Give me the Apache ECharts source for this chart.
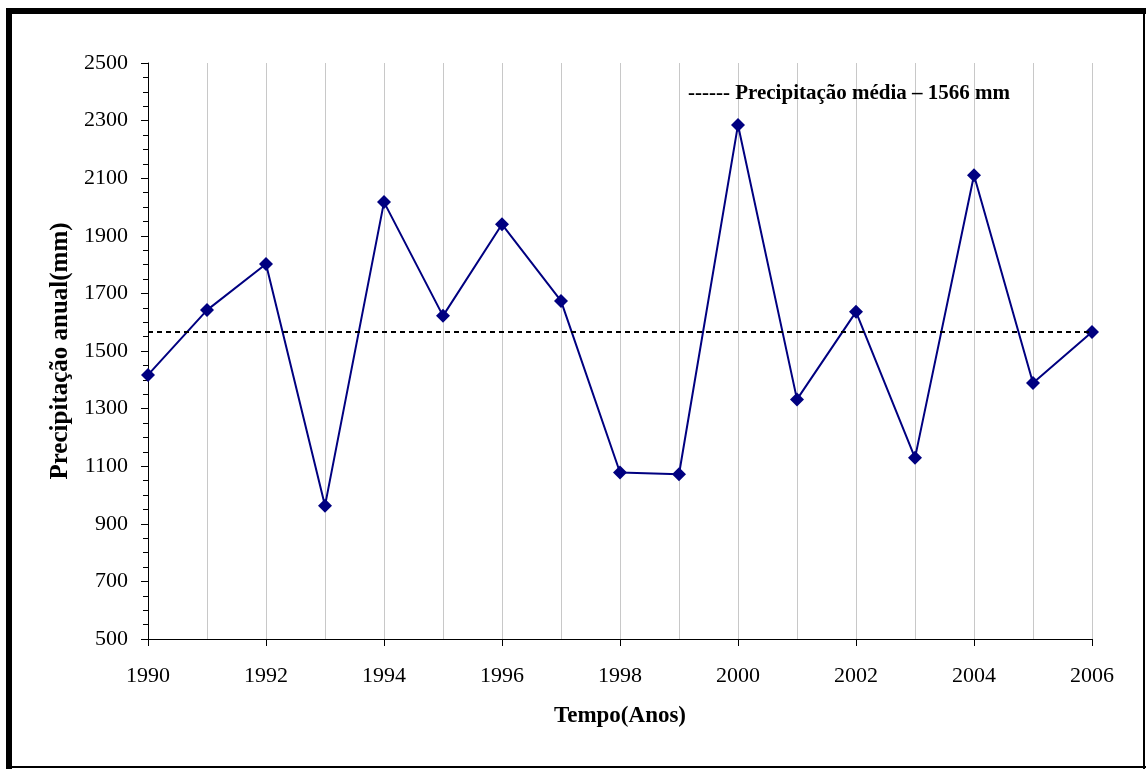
<!DOCTYPE html>
<html>
<head>
<meta charset="utf-8">
<script src="https://cdn.jsdelivr.net/npm/echarts@6/dist/echarts.min.js"></script>
<style>
  html, body { margin: 0; padding: 0; background: #ffffff; }
  #chart { width: 1146px; height: 769px; }
</style>
</head>
<body>
<div id="chart"></div>
<script>
// Annual precipitation series, 1990–2006
const years = ['1990','1991','1992','1993','1994','1995','1996','1997','1998',
               '1999','2000','2001','2002','2003','2004','2005','2006'];
const precipitation = [1417, 1642, 1802, 963, 2017, 1622, 1940, 1674, 1078,
                       1072, 2285, 1332, 1636, 1129, 2110, 1389, 1566];
const meanPrecipitation = 1566;
const yTicks = { min: 500, max: 2500, step: 200 };

const serif = '"Liberation Serif", "Times New Roman", serif';
const chart = echarts.init(document.getElementById('chart'), null, { renderer: 'canvas' });

chart.setOption({
  backgroundColor: '#ffffff',
  animation: false,
  textStyle: { fontFamily: serif },
  title: {
    text: '------ Precipitação média – ' + meanPrecipitation + ' mm',
    left: 683,
    top: 78,
    textStyle: { fontFamily: serif, fontSize: 21, fontWeight: 'bold', color: '#000000' }
  },
  grid: { left: 148, right: 54, top: 63, bottom: 130 },
  xAxis: {
    type: 'category',
    data: years,
    boundaryGap: false,
    name: 'Tempo(Anos)',
    nameLocation: 'middle',
    nameGap: 66,
    nameTextStyle: { fontFamily: serif, fontSize: 23, fontWeight: 'bold', color: '#000000' },
    axisLine: { lineStyle: { color: '#000000', width: 1 } },
    axisTick: { show: true, interval: 1, length: 7, lineStyle: { color: '#000000' } },
    axisLabel: { interval: 1, margin: 26, fontFamily: serif, fontSize: 22, color: '#000000' },
    splitLine: { show: true, interval: 0, lineStyle: { color: '#c8c8c8', width: 1 } }
  },
  yAxis: {
    type: 'value',
    min: yTicks.min,
    max: yTicks.max,
    interval: yTicks.step,
    name: 'Precipitação anual(mm)',
    nameLocation: 'middle',
    nameGap: 75,
    nameTextStyle: { fontFamily: serif, fontSize: 25, fontWeight: 'bold', color: '#000000' },
    axisLine: { show: true, lineStyle: { color: '#000000', width: 1 } },
    axisTick: { show: true, length: 7, lineStyle: { color: '#000000' } },
    minorTick: { show: true, splitNumber: 4, length: 5, lineStyle: { color: '#000000' } },
    axisLabel: {
      margin: 20, fontFamily: serif, fontSize: 22, color: '#000000',
      formatter: (v) => String(v)
    },
    splitLine: { show: false }
  },
  series: [{
    type: 'line',
    data: precipitation,
    symbol: 'diamond',
    symbolSize: 14,
    lineStyle: { color: '#000080', width: 2 },
    itemStyle: { color: '#000080' },
    markLine: {
      silent: true,
      symbol: 'none',
      label: { show: false },
      lineStyle: { color: '#000000', type: [5, 4], width: 2 },
      data: [{ yAxis: meanPrecipitation }]
    }
  }],
  graphic: [
    { type: 'rect', shape: { x: 6, y: 8, width: 6, height: 761 }, style: { fill: '#000000' } },
    { type: 'rect', shape: { x: 6, y: 8, width: 1140, height: 6 }, style: { fill: '#000000' } },
    { type: 'rect', shape: { x: 1143, y: 8, width: 2, height: 761 }, style: { fill: '#000000' } },
    { type: 'rect', shape: { x: 6, y: 766, width: 1140, height: 2 }, style: { fill: '#000000' } }
  ]
});
</script>
</body>
</html>
